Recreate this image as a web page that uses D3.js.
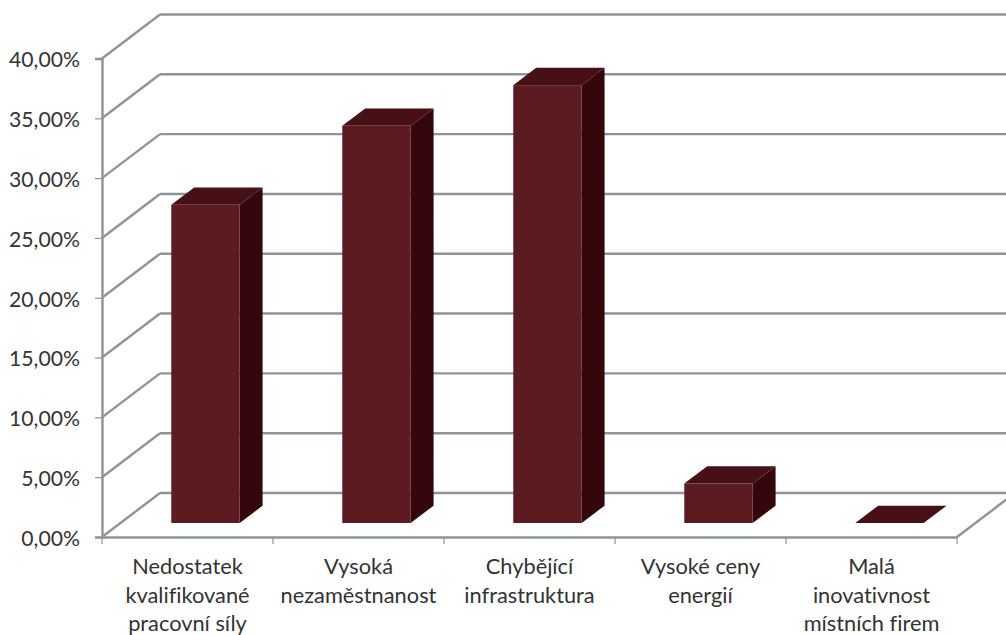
<!DOCTYPE html>
<html>
<head>
<meta charset="utf-8">
<script src="https://cdn.jsdelivr.net/npm/d3@7"></script>
<style>
  html, body { margin: 0; padding: 0; background: #fff; }
  text { font-family: Lato, "Open Sans", sans-serif; fill: #333; font-variant-ligatures: none; }
</style>
</head>
<body>
<div id="chart"></div>
<script>
// data
const categories = ["Nedostatek kvalifikované pracovní síly", "Vysoká nezaměstnanost", "Chybějící infrastruktura", "Vysoké ceny energií", "Malá inovativnost místních firem"];
const categoryLines = [
  ["Nedostatek", "kvalifikované", "pracovní síly"],
  ["Vysoká", "nezaměstnanost"],
  ["Chybějící", "infrastruktura"],
  ["Vysoké ceny", "energií"],
  ["Malá", "inovativnost", "místních firem"]
];
const values = [26.6, 33.2, 36.6, 3.3, 0];
const yTicks = [0, 5, 10, 15, 20, 25, 30, 35, 40];

const width = 1006, height = 635;
const plotLeft = 102, plotRight = 957, plotBottom = 537, plotTop = 58.5;
// offset of the back wall (fake 3D)
const depthX = 58, depthY = -44;
const gridColor = "#8e9499";

const svg = d3.select("#chart")
  .append("svg")
    .attr("width", width)
    .attr("height", height)
    .style("display", "block");

const x = d3.scaleBand().domain(categories).range([plotLeft, plotRight]);
const y = d3.scaleLinear().domain([0, 40]).range([plotBottom, plotTop]);

// back wall lines and the left wall diagonals
const grid = svg.append("g").attr("fill", "none").attr("stroke", gridColor).attr("stroke-width", 2.4);
grid.selectAll("line.back")
  .data(yTicks)
  .join("line")
    .attr("class", "back")
    .attr("x1", plotLeft + depthX)
    .attr("x2", width + 10)
    .attr("y1", d => y(d) + depthY)
    .attr("y2", d => y(d) + depthY);
grid.selectAll("line.wall")
  .data(yTicks)
  .join("line")
    .attr("class", "wall")
    .attr("x1", plotLeft)
    .attr("x2", plotLeft + depthX)
    .attr("y1", d => y(d))
    .attr("y2", d => y(d) + depthY);
// floor edge on the right
grid.append("line")
  .attr("x1", plotRight).attr("y1", y(0))
  .attr("x2", plotRight + depthX).attr("y2", y(0) + depthY);

// bars: front offset and depth as parts of the wall offset
const barW = x.bandwidth() * 0.4;
const frontShift = 0.31, barDepth = 0.395;
const sx = depthX * frontShift, sy = depthY * 0.318;
const bx = depthX * barDepth, by = depthY * barDepth;
const barX = d => x(d) + sx + (x.bandwidth() - barW) / 2;
const barTop = i => y(values[i]) + sy;
const barBase = y(0) + sy;

const bars = svg.append("g").selectAll("g")
  .data(categories)
  .join("g");

// side face
bars.append("path")
  .attr("fill", "#36060d")
  .attr("d", (d, i) => {
    const r = barX(d) + barW;
    return `M${r},${barTop(i)}L${r + bx},${barTop(i) + by}L${r + bx},${barBase + by}L${r},${barBase}Z`;
  });
// front face
bars.append("rect")
  .attr("fill", "#5c1a21")
  .attr("x", d => barX(d))
  .attr("width", barW)
  .attr("y", (d, i) => barTop(i))
  .attr("height", (d, i) => barBase - barTop(i));
// top face
bars.append("path")
  .attr("fill", "#470f16")
  .attr("d", (d, i) => {
    const l = barX(d), t = barTop(i);
    return `M${l},${t}L${l + bx},${t + by}L${l + barW + bx},${t + by}L${l + barW},${t}Z`;
  });

// axes
const yAxis = svg.append("g")
  .attr("transform", `translate(${plotLeft},0)`)
  .call(d3.axisLeft(y)
    .tickValues(yTicks)
    .tickSize(7)
    .tickPadding(15)
    .tickFormat(d => d3.format(".2f")(d).replace(".", ",") + "%"));
yAxis.attr("font-family", null);
yAxis.select(".domain").attr("stroke", gridColor).attr("stroke-width", 2.4);
yAxis.selectAll(".tick line").attr("stroke", gridColor).attr("stroke-width", 1.2);
yAxis.selectAll("text").style("font-size", "21.2px").attr("dy", "0.39em");

const xAxis = svg.append("g")
  .attr("transform", `translate(0,${plotBottom})`)
  .call(d3.axisBottom(x).tickSize(0).tickFormat(""));
xAxis.select(".domain").attr("stroke", gridColor).attr("stroke-width", 2.4);
xAxis.selectAll(".tick").remove();

// ticks sit between the categories
xAxis.selectAll("line.sep")
  .data(d3.range(categories.length + 1))
  .join("line")
    .attr("class", "sep")
    .attr("x1", i => plotLeft + i * x.step())
    .attr("x2", i => plotLeft + i * x.step())
    .attr("y1", 0)
    .attr("y2", 7)
    .attr("stroke", gridColor)
    .attr("stroke-width", 1.2);

// category labels, wrapped as in the original
svg.append("g").selectAll("text")
  .data(categories)
  .join("text")
    .attr("text-anchor", "middle")
    .style("font-size", "21.8px")
    .each(function(d, i) {
      d3.select(this).selectAll("tspan")
        .data(categoryLines[i])
        .join("tspan")
          .attr("x", x(d) + x.bandwidth() / 2)
          .attr("y", (l, j) => 574 + j * 28.7)
          .text(l => l);
    });
</script>
</body>
</html>
